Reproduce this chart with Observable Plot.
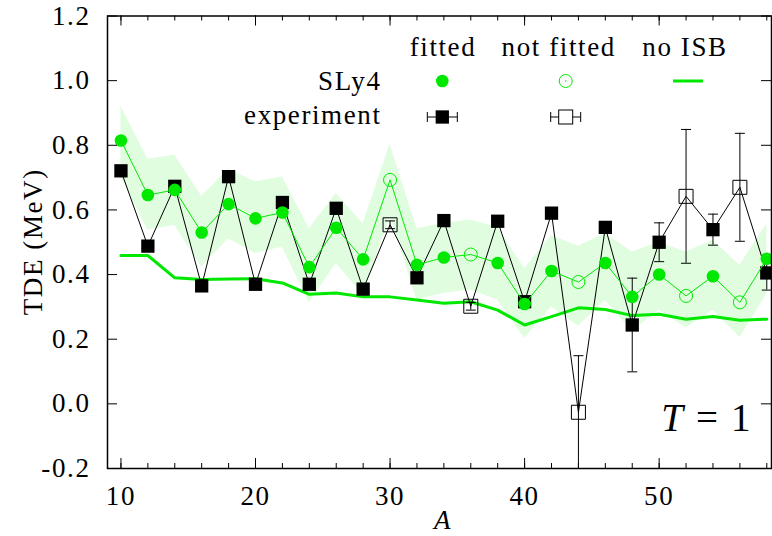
<!DOCTYPE html>
<html>
<head>
<meta charset="utf-8">
<script src="https://cdn.jsdelivr.net/npm/d3@7"></script>
<script src="https://cdn.jsdelivr.net/npm/@observablehq/plot@0.6"></script>
<style>
  html, body { margin: 0; padding: 0; background: #fff; }
  #chart svg text { font-family: "Liberation Serif", "Times New Roman", serif; letter-spacing: 1.6px; }
</style>
</head>
<body>
<div id="chart"></div>
<script>
// Mass number A of each T=1 multiplet
const massA = [10, 12, 14, 16, 18, 20, 22, 24, 26, 28, 30, 32, 34, 36, 38, 40, 42, 44, 46, 48, 50, 52, 54, 56, 58];
// Multiplets not included in the fit
const notFittedA = [30, 36, 44, 52, 56];

// SLy4 TDE (MeV) and its uncertainty band
const sly4 = [0.815, 0.646, 0.662, 0.530, 0.618, 0.574, 0.592, 0.423, 0.545, 0.447, 0.693, 0.430, 0.453,
              0.462, 0.436, 0.309, 0.411, 0.377, 0.436, 0.331, 0.400, 0.334, 0.395, 0.314, 0.449];
const bandLow = [0.700, 0.538, 0.552, 0.423, 0.511, 0.465, 0.485, 0.313, 0.434, 0.336, 0.580, 0.321, 0.342,
                 0.352, 0.321, 0.203, 0.300, 0.240, 0.320, 0.225, 0.290, 0.235, 0.290, 0.205, 0.340];
const bandHigh = [0.921, 0.757, 0.769, 0.642, 0.726, 0.687, 0.702, 0.542, 0.651, 0.557, 0.803, 0.542, 0.559,
                  0.569, 0.546, 0.418, 0.521, 0.488, 0.526, 0.470, 0.500, 0.470, 0.506, 0.429, 0.557];
// SLy4 without isospin-symmetry-breaking terms
const noISB = [0.459, 0.459, 0.390, 0.385, 0.386, 0.387, 0.374, 0.339, 0.343, 0.331, 0.331, 0.321, 0.311,
               0.316, 0.290, 0.244, 0.270, 0.297, 0.292, 0.273, 0.277, 0.262, 0.270, 0.259, 0.262];
// Experimental TDE (MeV) and errors
const experiment = [0.721, 0.488, 0.673, 0.365, 0.703, 0.370, 0.623, 0.370, 0.605, 0.355, 0.554, 0.390, 0.567,
                    0.302, 0.565, 0.316, 0.590, -0.026, 0.546, 0.244, 0.500, 0.642, 0.539, 0.670, 0.405];
const experimentErr = [0, 0, 0, 0, 0, 0, 0, 0, 0, 0, 0.012, 0, 0,
                       0.012, 0, 0, 0, 0.175, 0, 0.145, 0.060, 0.207, 0.048, 0.167, 0.053];

// Axis ticks
const xMajorTicks = [10, 20, 30, 40, 50];
const xMinorTicks = [10, 12, 14, 16, 18, 20, 22, 24, 26, 28, 30, 32, 34, 36, 38, 40, 42, 44, 46, 48, 50, 52, 54, 56, 58];
const yTicks = [-0.2, 0.0, 0.2, 0.4, 0.6, 0.8, 1.0, 1.2];

const rows = massA.map((A, i) => ({
  A,
  fitted: !notFittedA.includes(A),
  sly4: sly4[i],
  lo: bandLow[i],
  hi: bandHigh[i],
  noISB: noISB[i],
  exp: experiment[i],
  err: experimentErr[i]
}));
const withErr = rows.filter(d => d.err > 0);
const caps = withErr.flatMap(d => [{A: d.A, y: d.exp - d.err}, {A: d.A, y: d.exp + d.err}]);

const W = 772, H = 536;
const mL = 107, mR = 1, mT = 15.5, mB = 68;
const innerW = W - mL - mR, innerH = H - mT - mB;
const GREEN = "#00e800";
const BAND = "#e0fde0";
const FONT = "Liberation Serif";

// horizontal error-bar cap
const capSymbol = { draw(ctx) { ctx.moveTo(-5, 0); ctx.lineTo(5, 0); } };

const chart = Plot.plot({
  width: W, height: H,
  marginLeft: mL, marginRight: mR, marginTop: mT, marginBottom: mB,
  style: { fontFamily: FONT, fontSize: "27px", background: "#fff", color: "#000" },
  x: { domain: [9, 58.35] },
  y: { domain: [-0.2, 1.2] },
  marks: [
    Plot.areaY(rows, { x: "A", y1: "lo", y2: "hi", fill: BAND }),
    Plot.line(rows, { x: "A", y: "noISB", stroke: GREEN, strokeWidth: 3 }),
    Plot.line(rows, { x: "A", y: "exp", stroke: "#000", strokeWidth: 1 }),
    Plot.ruleX(withErr, { x: "A", y1: d => d.exp - d.err, y2: d => d.exp + d.err, stroke: "#000", strokeWidth: 1, clip: true }),
    Plot.dot(caps, { x: "A", y: "y", symbol: capSymbol, fill: "none", stroke: "#000", strokeWidth: 1, clip: true }),
    Plot.dot(rows.filter(d => d.fitted), { x: "A", y: "exp", symbol: "square", r: 7.5, fill: "#000", stroke: "none" }),
    Plot.dot(rows.filter(d => !d.fitted), { x: "A", y: "exp", symbol: "square", r: 7.9, fill: "none", stroke: "#000", strokeWidth: 1 }),
    Plot.line(rows, { x: "A", y: "sly4", stroke: GREEN, strokeWidth: 1 }),
    Plot.dot(rows.filter(d => d.fitted), { x: "A", y: "sly4", r: 6.3, fill: GREEN, stroke: "none" }),
    Plot.dot(rows.filter(d => !d.fitted), { x: "A", y: "sly4", r: 6.5, fill: "none", stroke: GREEN, strokeWidth: 1 }),
    // inward ticks on all four sides
    Plot.tickX(xMinorTicks, { x: d => d, insetTop: innerH - 5, stroke: "#000" }),
    Plot.tickX(xMajorTicks, { x: d => d, insetTop: innerH - 10, stroke: "#000" }),
    Plot.tickX(xMinorTicks, { x: d => d, insetBottom: innerH - 5, stroke: "#000" }),
    Plot.tickX(xMajorTicks, { x: d => d, insetBottom: innerH - 10, stroke: "#000" }),
    Plot.tickY(yTicks, { y: d => d, insetRight: innerW - 10, stroke: "#000" }),
    Plot.tickY(yTicks, { y: d => d, insetLeft: innerW - 10, stroke: "#000" }),
    Plot.axisX({ ticks: xMajorTicks, tickSize: 0, tickPadding: 17, label: null, fontFamily: FONT }),
    Plot.axisY({ ticks: yTicks, tickSize: 0, tickPadding: 17, tickFormat: d => d.toFixed(1), label: null, fontFamily: FONT }),
    Plot.frame({ stroke: "#000", strokeWidth: 1.5 })
  ]
});

document.getElementById("chart").appendChild(chart);

// Axis titles, annotation and key
const svg = d3.select(chart);
const g = svg.append("g").attr("fill", "#000").style("font-size", "27px");

g.append("text").attr("x", mL + innerW / 2 + 4).attr("y", 529)
  .attr("text-anchor", "middle").style("font-style", "italic").text("A");

g.append("text").attr("transform", `translate(42,${mT + innerH / 2}) rotate(-90)`)
  .attr("text-anchor", "middle").text("TDE (MeV)");

const t1 = g.append("text").attr("x", 752).attr("y", 431).attr("text-anchor", "end").style("font-size", "39px");
t1.append("tspan").style("font-style", "italic").text("T");
t1.append("tspan").text(" = 1");

// key
const hy = 55.5, r1 = 81, r2 = 117;
[["fitted", 443], ["not fitted", 558.7], ["no ISB", 685]].forEach(([s, x]) =>
  g.append("text").attr("x", x).attr("y", hy).attr("text-anchor", "middle").text(s));
g.append("text").attr("x", 381.5).attr("y", r1 + 9).attr("text-anchor", "end").text("SLy4");
g.append("text").attr("x", 381.5).attr("y", r2 + 7).attr("text-anchor", "end").text("experiment");

g.append("circle").attr("cx", 442.3).attr("cy", r1).attr("r", 6.3).attr("fill", GREEN);
g.append("circle").attr("cx", 565.7).attr("cy", r1).attr("r", 6.5).attr("fill", "none").attr("stroke", GREEN);
g.append("circle").attr("cx", 565.7).attr("cy", r1).attr("r", 0.7).attr("fill", GREEN);
g.append("line").attr("x1", 673).attr("x2", 703).attr("y1", r1).attr("y2", r1).attr("stroke", GREEN).attr("stroke-width", 3);

function keyErr(cx, filled) {
  g.append("line").attr("x1", cx - 15).attr("x2", cx + 15).attr("y1", r2).attr("y2", r2).attr("stroke", "#000");
  [cx - 15, cx + 15].forEach(x => g.append("line").attr("x1", x).attr("x2", x)
    .attr("y1", r2 - 5).attr("y2", r2 + 5).attr("stroke", "#000"));
  const s = filled ? 13.3 : 14;
  g.append("rect").attr("x", cx - s / 2).attr("y", r2 - s / 2).attr("width", s).attr("height", s)
    .attr("fill", filled ? "#000" : "#fff").attr("stroke", filled ? "none" : "#000");
}
keyErr(442.3, true);
keyErr(565.7, false);
</script>
</body>
</html>
